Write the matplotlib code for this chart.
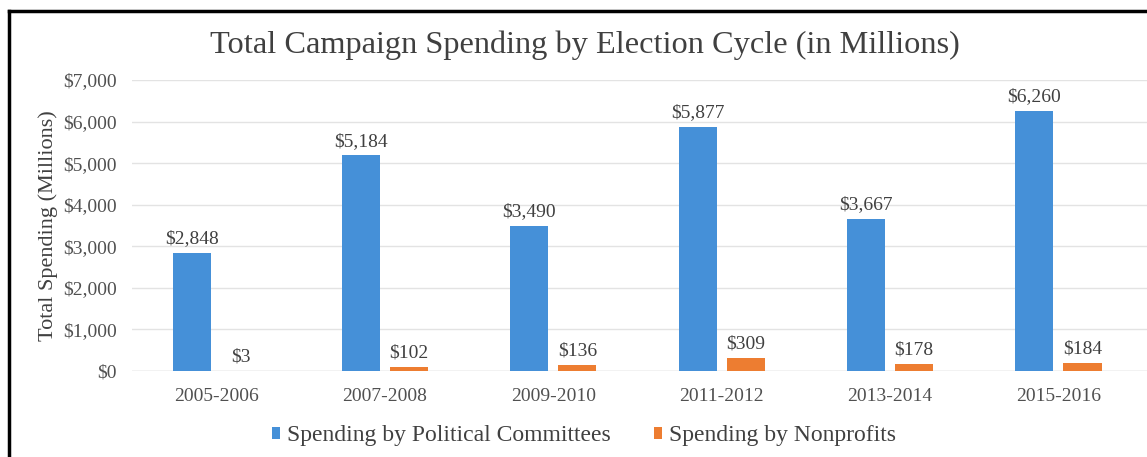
import matplotlib
matplotlib.use("Agg")
import matplotlib.pyplot as plt
from matplotlib.lines import Line2D
from matplotlib.ticker import FuncFormatter
import numpy as np

cycles = ["2005-2006", "2007-2008", "2009-2010", "2011-2012", "2013-2014", "2015-2016"]
political = [2848, 5184, 3490, 5877, 3667, 6260]
nonprofit = [3, 102, 136, 309, 178, 184]
series_names = ["Spending by Political Committees", "Spending by Nonprofits"]
yticks = [0, 1000, 2000, 3000, 4000, 5000, 6000, 7000]

plt.rcParams['font.family'] = ['Liberation Serif', 'DejaVu Serif']

W, H = 1147, 457
fig = plt.figure(figsize=(W / 100, H / 100), dpi=100)
fig.patch.set_facecolor('white')

left_px = 132.3
ax = fig.add_axes([left_px / W, (H - 371) / H, (W - left_px) / W, (371 - 80) / H])
x = np.arange(len(cycles))
bw = 0.226
off = 0.143
blue = '#4590d8'
orange = '#ed7d31'
txt = '#404040'
b1 = ax.bar(x - off, political, bw, color=blue, label=series_names[0], zorder=3)
b2 = ax.bar(x + off, nonprofit, bw, color=orange, label=series_names[1], zorder=3)

for bars, vals in ((b1, political), (b2, nonprofit)):
    for rect, v in zip(bars, vals):
        ax.annotate(f"${v:,}", (rect.get_x() + rect.get_width() / 2, v), xytext=(0, 4),
                    textcoords='offset points', ha='center', va='bottom', fontsize=14, color=txt)

ax.set_xlim(-0.5, 5.526)
ax.set_ylim(0, 7000)
ax.set_yticks(yticks)
ax.yaxis.set_major_formatter(FuncFormatter(lambda v, p: f"${int(v):,}"))
ax.set_xticks(x)
ax.set_xticklabels(cycles)
ax.tick_params(axis='both', length=0, labelsize=14, labelcolor='#505050')
ax.tick_params(axis='x', pad=12)
ax.tick_params(axis='y', pad=11)
ax.grid(axis='y', color='#e3e3e3', linewidth=1, zorder=0)
for s in ax.spines.values():
    s.set_visible(False)
ax.axhline(0, color='#d9d9d9', linewidth=1, zorder=2)

ax.set_ylabel("Total Spending (Millions)", fontsize=16, color=txt, labelpad=4)

fig.text(585 / W, (H - 45) / H, "Total Campaign Spending by Election Cycle (in Millions)",
         ha='center', va='center', fontsize=23.3, color=txt)

fig.legend(handles=[b1, b2], labels=series_names, loc='center', bbox_to_anchor=(584 / W, (H - 436) / H),
           ncol=2, frameon=False, fontsize=17, handlelength=0.35, handleheight=0.35,
           handletextpad=0.3, columnspacing=1.8, labelcolor=txt)

fig.add_artist(Line2D([9 / W, 1.0], [(H - 11) / H, (H - 11) / H], color='black', linewidth=2.5,
                      transform=fig.transFigure))
fig.add_artist(Line2D([9 / W, 9 / W], [0, (H - 11) / H], color='black', linewidth=2.5,
                      transform=fig.transFigure))

fig.savefig("out.png", dpi=100)
